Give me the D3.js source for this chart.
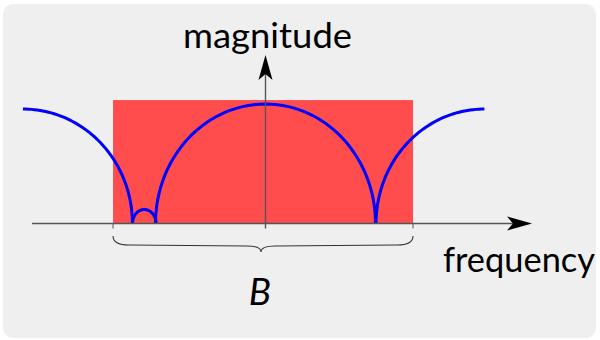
<!DOCTYPE html>
<html>
<head>
<meta charset="utf-8">
<script src="https://cdn.jsdelivr.net/npm/d3@7/dist/d3.min.js"></script>
<style>
  html, body { margin: 0; padding: 0; background: #ffffff; }
  svg { display: block; }
</style>
</head>
<body>
<svg id="chart" width="600" height="340"></svg>
<script>
// ---- data (schematic values, frequency in units of main-lobe half width) ----
const lobeNames      = ["left", "small", "main", "right"];
const lobeCenter     = [-2.205, -1.102, 0.0, 1.99];
const lobeHalfWidth  = [0.995, 0.107, 1.0, 0.985];
const lobePeak       = [0.958, 0.117, 1.0, 0.958];
// which part of each lobe is drawn: "right" half, "full" arch, "left" half
const lobePart       = ["right", "full", "full", "left"];

const bandStart = -1.386;
const bandEnd   = 1.341;
const bandLevel = 1.033;

const axisFreqMin = -2.123;
const axisFreqMax = 2.423;
const axisMagMax  = 1.41;

const xLabel = "frequency";
const yLabel = "magnitude";
const bandLabel = "B";

// ---- scales ----
const svg = d3.select("#chart");
const x = d3.scaleLinear().domain([-2.4, 2.4]).range([1.5, 529.5]);
const y = d3.scaleLinear().domain([0, 1]).range([223.5, 104]);

// background panel
svg.append("rect").attr("x", 3).attr("y", 4).attr("width", 593).attr("height", 334)
  .attr("rx", 10).attr("fill", "#efefef");

// band rectangle
svg.append("rect")
  .attr("x", x(bandStart)).attr("y", y(bandLevel))
  .attr("width", x(bandEnd) - x(bandStart)).attr("height", y(0) - y(bandLevel))
  .attr("fill", "#ff4d4d");

// curve: elliptical lobes
function lobePoints(i) {
  const c = lobeCenter[i], w = lobeHalfWidth[i], h = lobePeak[i];
  let a0 = 0, a1 = Math.PI;
  if (lobePart[i] === "right") { a0 = Math.PI / 2; a1 = Math.PI; }
  if (lobePart[i] === "left")  { a0 = 0; a1 = Math.PI / 2; }
  const n = 60, pts = [];
  for (let k = 0; k <= n; k++) {
    const t = a0 + (a1 - a0) * k / n;
    pts.push([c - w * Math.cos(t), h * Math.sin(t)]);
  }
  return pts;
}
const line = d3.line().x(d => x(d[0])).y(d => y(d[1]));
svg.append("g").selectAll("path").data(lobeNames.map((_, i) => lobePoints(i)))
  .join("path")
  .attr("d", line)
  .attr("fill", "none").attr("stroke", "#0000ff").attr("stroke-width", 3)
  .attr("stroke-linecap", "butt");

// axes
const axisColor = "#555";
svg.append("line").attr("x1", x(axisFreqMin)).attr("x2", x(axisFreqMax) - 18)
  .attr("y1", y(0)).attr("y2", y(0)).attr("stroke", axisColor).attr("stroke-width", 1.4);
svg.append("line").attr("x1", x(0)).attr("x2", x(0))
  .attr("y1", y(0) + 5).attr("y2", y(axisMagMax) + 16).attr("stroke", axisColor).attr("stroke-width", 1.4);

// arrowheads (stealth)
function arrow(tx, ty, dir) {
  const L = 25, W = 7, N = 6;
  let p;
  if (dir === "right") p = [[tx, ty], [tx - L, ty - W], [tx - L + N, ty], [tx - L, ty + W]];
  else p = [[tx, ty], [tx - W, ty + L], [tx, ty + L - N], [tx + W, ty + L]];
  svg.append("path").attr("d", "M" + p.map(q => q.join(",")).join("L") + "Z").attr("fill", "#000");
}
arrow(x(axisFreqMax), y(0), "right");
arrow(x(0), y(axisMagMax), "up");

// band ticks
[bandStart, bandEnd].forEach(f => {
  svg.append("line").attr("x1", x(f)).attr("x2", x(f)).attr("y1", y(0)).attr("y2", y(0) + 5)
    .attr("stroke", axisColor).attr("stroke-width", 1);
});

// brace under the band
const bx0 = x(bandStart), bx1 = x(bandEnd), bm = (bx0 + bx1) / 2 - 2;
const by0 = 236, by1 = 245, by2 = 252;
const brace = `M${bx0},${by0} Q${bx0},${by1} ${bx0 + 16},${by1} L${bm - 14},${by1 + 1} Q${bm},${by1 + 1} ${bm},${by2}`
  + ` Q${bm},${by1 + 1} ${bm + 14},${by1 + 1} L${bx1 - 16},${by1} Q${bx1},${by1} ${bx1},${by0}`;
svg.append("path").attr("d", brace).attr("fill", "none").attr("stroke", "#333").attr("stroke-width", 1.1);

// labels
const font = "Lato, 'Open Sans', sans-serif";
svg.append("text").attr("x", 183).attr("y", 48)
  .attr("font-family", font).attr("font-size", 35).attr("fill", "#000")
  .attr("textLength", 169).attr("lengthAdjust", "spacingAndGlyphs").text(yLabel);
svg.append("text").attr("x", 443).attr("y", 272)
  .attr("font-family", font).attr("font-size", 35).attr("fill", "#000")
  .attr("textLength", 152).attr("lengthAdjust", "spacingAndGlyphs").text(xLabel);
svg.append("text").attr("x", 260).attr("y", 305).attr("text-anchor", "middle")
  .attr("font-family", font).attr("font-style", "italic").attr("font-size", 37).attr("fill", "#000").text(bandLabel);
</script>
</body>
</html>
